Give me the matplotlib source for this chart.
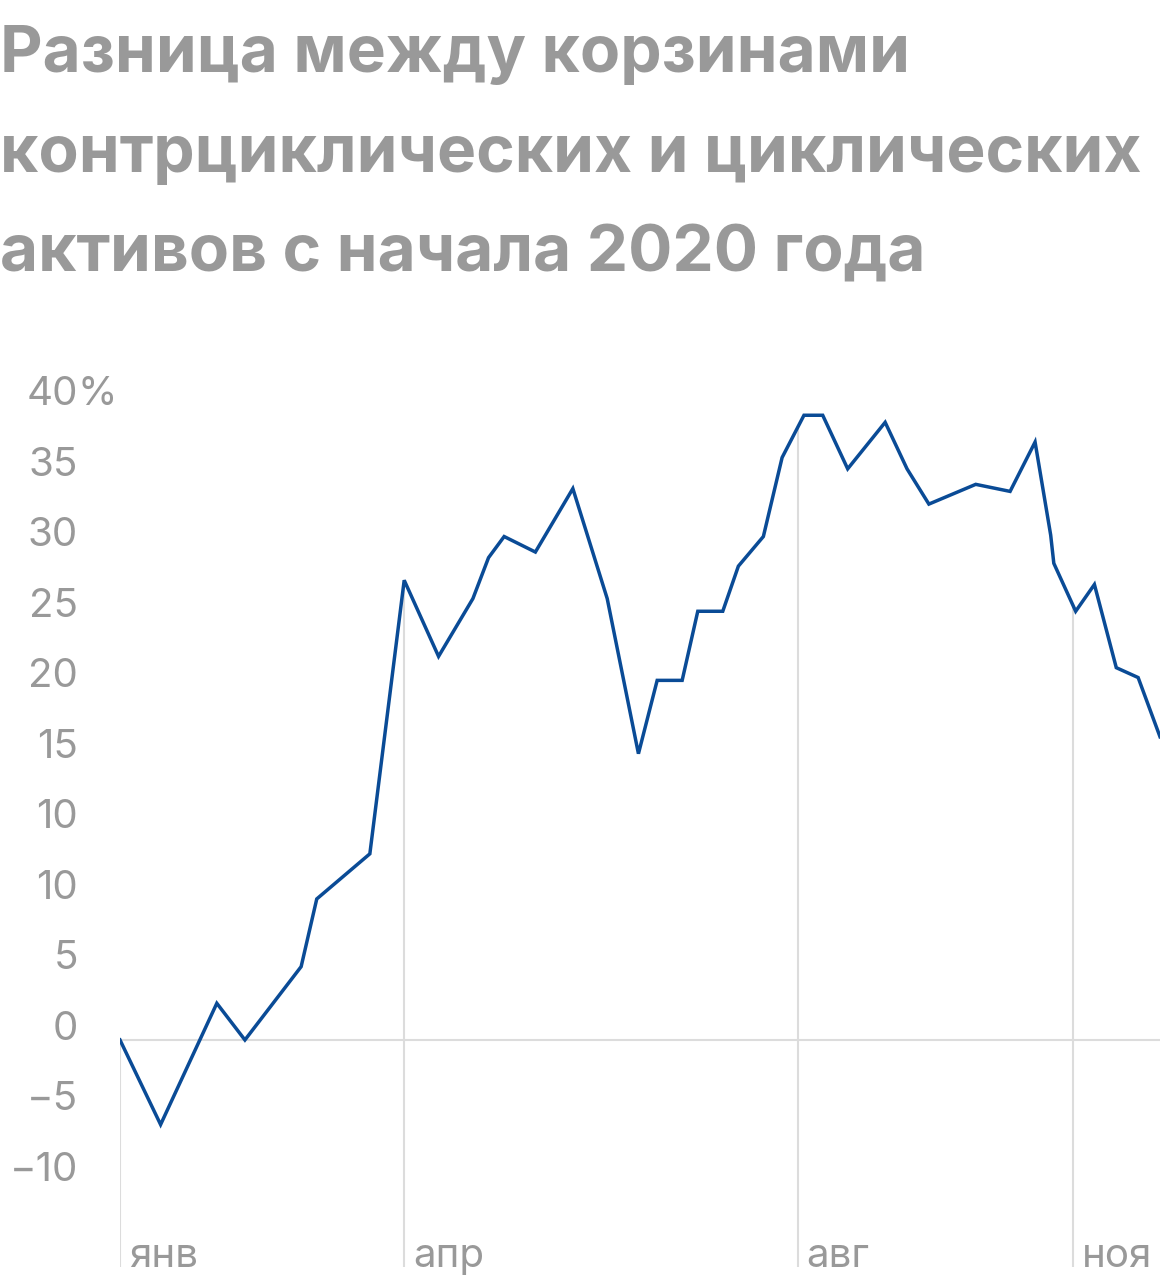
#!/usr/bin/env python3

import matplotlib
matplotlib.use("Agg")
import matplotlib.pyplot as plt
import matplotlib.dates as mdates
import matplotlib.transforms as mtransforms
import numpy as np
import pandas as pd

plt.rcParams['font.family'] = ['Inter', 'DejaVu Sans']

title_lines = ["Разница между корзинами",
               "контрциклических и циклических",
               "активов с начала 2020 года"]

dates = ['2020-01-01', '2020-01-14', '2020-02-01', '2020-02-10', '2020-02-28',
         '2020-03-04', '2020-03-21', '2020-04-01', '2020-04-12', '2020-04-23',
         '2020-04-28', '2020-05-03', '2020-05-13', '2020-05-25', '2020-06-05',
         '2020-06-15', '2020-06-21', '2020-06-29', '2020-07-04', '2020-07-12',
         '2020-07-17', '2020-07-25', '2020-07-31', '2020-08-07', '2020-08-13',
         '2020-08-21', '2020-09-02', '2020-09-09', '2020-09-16', '2020-10-01',
         '2020-10-12', '2020-10-20', '2020-10-25', '2020-10-26', '2020-11-02',
         '2020-11-08', '2020-11-15', '2020-11-22', '2020-11-29']
values = [0, -6.0, 2.6, 0, 5.2,
          10.0, 13.2, 32.6, 27.2, 31.3,
          34.2, 35.7, 34.6, 39.1, 31.3,
          20.3, 25.5, 25.5, 30.4, 30.4,
          33.6, 35.7, 41.3, 44.3, 44.3,
          40.5, 43.8, 40.5, 38.0, 39.4,
          38.9, 42.4, 35.8, 33.8, 30.4,
          32.3, 26.4, 25.7, 21.5]

# y label positions and the (odd) labels as printed on the original
ytick_pos = [-10, -5, 0, 5, 10, 15, 20, 25, 30, 35, 40, 45]
ytick_labels = ['\u221210', '\u22125', '0', '5', '10', '10',
                '15', '20', '25', '30', '35', '40']

# month markers (as placed on the original chart)
month_dates = ['2020-01-01', '2020-04-01', '2020-08-05', '2020-11-01']
month_labels = ['янв', 'апр', 'авг', 'ноя']

GRAY = '#999999'
LINE = '#0a4b96'
GRID = '#dcdcdc'

x = mdates.date2num(pd.to_datetime(dates))
mx = mdates.date2num(pd.to_datetime(month_dates))
y = np.array(values)

fig = plt.figure(figsize=(11.6, 12.88), dpi=100)
ax = fig.add_axes([120 / 1160, 21 / 1288, 1040 / 1160, 887 / 1288])
ax.set_xlim(x[0], x[-1])
ax.set_ylim(-16.1, 46.8)
ax.axis('off')

# zero line
ax.axhline(0, color=GRID, lw=1.5, zorder=1)

# drop lines at month starts
y_month = np.interp(mx, x, y)
ax.vlines(mx, -16.1, y_month, color=GRID, lw=1.5, zorder=1)

ax.plot(x, y, color=LINE, lw=2.5, zorder=3, solid_joinstyle='miter')

# y labels
trans = mtransforms.blended_transform_factory(ax.transAxes, ax.transData)
for pos, lab in zip(ytick_pos, ytick_labels):
    ax.text(-0.0404, pos, lab, transform=trans, ha='right', va='baseline',
            fontsize=29, color=GRAY, clip_on=False)
ax.text(-0.0404, ytick_pos[-1], '%', transform=trans, ha='left', va='baseline',
        fontsize=29, color=GRAY, clip_on=False)

# month labels
off = mtransforms.offset_copy(ax.transData, fig=fig, x=9, y=0, units='dots')
for d, lab in zip(mx, month_labels):
    ax.text(d, -16.1, lab, transform=off, ha='left', va='baseline',
            fontsize=29, color=GRAY, clip_on=False)

# title
for i, line in enumerate(title_lines):
    fig.text(0.0, 1 - (72 + 100 * i) / 1288, line, ha='left', va='baseline',
             fontsize=47.3, fontweight='bold', color=GRAY)

fig.savefig('out.png', dpi=100)
